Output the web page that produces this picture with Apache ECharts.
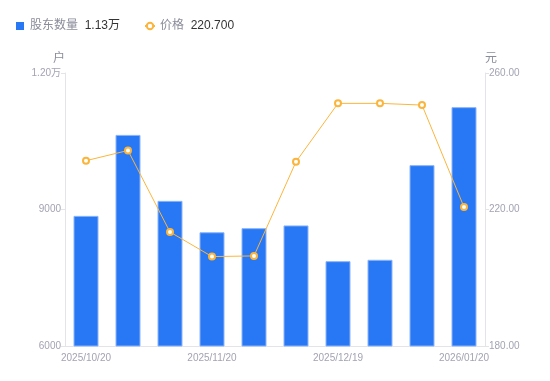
<!DOCTYPE html>
<html><head><meta charset="utf-8">
<script src="https://cdn.jsdelivr.net/npm/echarts@6/dist/echarts.min.js"></script>
<style>html,body{margin:0;padding:0;background:#fff}#c{width:550px;height:381px}</style>
</head><body><div id="c"></div>
<script>
const categories = ['2025/10/20','2025/10/31','2025/11/10','2025/11/20','2025/11/28','2025/12/10','2025/12/19','2025/12/31','2026/01/09','2026/01/20'];
const holders = [8860, 10640, 9190, 8500, 8590, 8650, 7865, 7895, 9975, 11250];
const prices = [234.3, 237.3, 213.4, 206.2, 206.4, 234.0, 251.1, 251.1, 250.6, 220.7];
const seriesNames = ['股东数量', '价格'];
const legendValues = ['1.13万', '220.700'];

const chart = echarts.init(document.getElementById('c'), null, {renderer: 'canvas'});
const fam = '"Liberation Sans","Noto Sans CJK SC",sans-serif';
chart.setOption({
  animation: false,
  textStyle: {fontFamily: fam},
  legend: {
    left: 11, top: 15,
    itemWidth: 10, itemHeight: 8, itemGap: 24,
    data: [
      {name: seriesNames[0], icon: 'path://M0,0h8v8h-8z', itemStyle: {borderWidth: 0}},
      {name: seriesNames[1]}
    ],
    formatter: function (n) {
      const i = seriesNames.indexOf(n);
      return '{n|' + n + '}  {v|' + legendValues[i] + '}';
    },
    textStyle: {
      fontFamily: fam,
      rich: {
        n: {color: '#8a8c99', fontSize: 12, fontFamily: fam},
        v: {color: '#333333', fontSize: 12, fontFamily: fam}
      }
    }
  },
  grid: {left: 65, right: 65, top: 73, bottom: 35},
  xAxis: {
    type: 'category',
    data: categories,
    axisLine: {lineStyle: {color: '#e3e3e8'}},
    axisTick: {show: false},
    axisLabel: {interval: 2, color: '#a3a3b3', fontSize: 10, margin: 7, fontFamily: fam}
  },
  yAxis: [
    {
      type: 'value', min: 6000, max: 12000, interval: 3000,
      name: '户', nameGap: 8,
      nameTextStyle: {color: '#8a8c99', fontSize: 12, align: 'right'},
      axisLine: {show: true, lineStyle: {color: '#e3e3e8'}},
      axisTick: {show: true, length: 4, lineStyle: {color: '#e3e3e8'}},
      splitLine: {show: false},
      axisLabel: {
        color: '#a3a3b3', fontSize: 10, margin: 4, fontFamily: fam,
        formatter: function (v) { return v >= 10000 ? (v / 10000).toFixed(2) + '万' : String(v); }
      }
    },
    {
      type: 'value', min: 180, max: 260, interval: 40,
      name: '元', nameGap: 8,
      nameTextStyle: {color: '#8a8c99', fontSize: 12, align: 'left'},
      position: 'right',
      axisLine: {show: true, lineStyle: {color: '#e3e3e8'}},
      axisTick: {show: true, length: 4, lineStyle: {color: '#e3e3e8'}},
      splitLine: {show: false},
      axisLabel: {
        color: '#a3a3b3', fontSize: 10, margin: 4, fontFamily: fam,
        formatter: function (v) { return v.toFixed(2); }
      }
    }
  ],
  series: [
    {
      name: seriesNames[0], type: 'bar', yAxisIndex: 0,
      data: holders, barWidth: 25,
      itemStyle: {color: '#2878f5', borderColor: '#8ab4f8', borderWidth: 1}
    },
    {
      name: seriesNames[1], type: 'line', yAxisIndex: 1,
      data: prices,
      symbol: 'emptyCircle', symbolSize: 6,
      lineStyle: {color: '#fbb53c', width: 1},
      itemStyle: {color: '#fbb53c', borderWidth: 2}
    }
  ]
});
</script></body></html>
